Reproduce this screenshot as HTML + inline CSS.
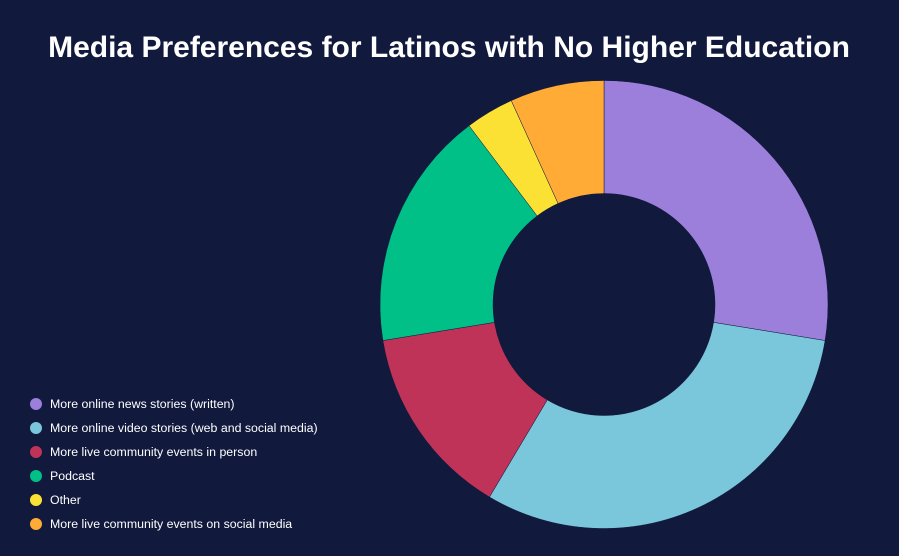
<!DOCTYPE html>
<html><head><meta charset="utf-8"><style>
body{margin:0;background:#11193d;}
svg{display:block;font-family:"Liberation Sans",sans-serif;}
</style></head><body>
<svg id="chart" width="899" height="556">
<rect width="899" height="556" fill="#11193d"/>
<text x="449" y="57" text-anchor="middle" fill="#ffffff" font-size="30" font-weight="bold">Media Preferences for Latinos with No Higher Education</text>
<g id="slices"></g>
<g id="legend"></g>
</svg>
<script>
const categories=["More online news stories (written)","More online video stories (web and social media)","More live community events in person","Podcast","Other","More live community events on social media"];
const values=[27.6,31.0,13.9,17.3,3.5,6.8];
const colors=["#9b7fdb","#7ac6da","#bf3359","#00c087","#fce135","#ffab36"];
const ns="http://www.w3.org/2000/svg";
const cx=604,cy=304.5,R=224,r=111;
const total=values.reduce((a,b)=>a+b,0);
const sg=document.getElementById('slices');
function pt(rad,a){return [cx+rad*Math.sin(a),cy-rad*Math.cos(a)];}
let acc=0;
values.forEach((v,i)=>{
  const a0=acc/total*2*Math.PI;acc+=v;const a1=acc/total*2*Math.PI;
  const large=(a1-a0)>Math.PI?1:0;
  const [x0,y0]=pt(R,a0),[x1,y1]=pt(R,a1),[x2,y2]=pt(r,a1),[x3,y3]=pt(r,a0);
  const p=document.createElementNS(ns,'path');
  p.setAttribute('d',`M${x0},${y0}A${R},${R} 0 ${large} 1 ${x1},${y1}L${x2},${y2}A${r},${r} 0 ${large} 0 ${x3},${y3}Z`);
  p.setAttribute('fill',colors[i]);
  p.setAttribute('stroke','#11193d');p.setAttribute('stroke-width','0.5');
  
  
  sg.appendChild(p);
});
const lg=document.getElementById('legend');
categories.forEach((c,i)=>{
  const y=404+i*24;
  const g=document.createElementNS(ns,'g');
  
  
  const ci=document.createElementNS(ns,'circle');
  ci.setAttribute('cx',36);ci.setAttribute('cy',y);ci.setAttribute('r',6);ci.setAttribute('fill',colors[i]);
  
  
  const t=document.createElementNS(ns,'text');
  t.setAttribute('x',50);t.setAttribute('y',y+4);t.setAttribute('fill','#ffffff');t.setAttribute('font-size','12.35');
  t.textContent=c;
  
  
  g.appendChild(ci);g.appendChild(t);lg.appendChild(g);
});
</script>
</body></html>
